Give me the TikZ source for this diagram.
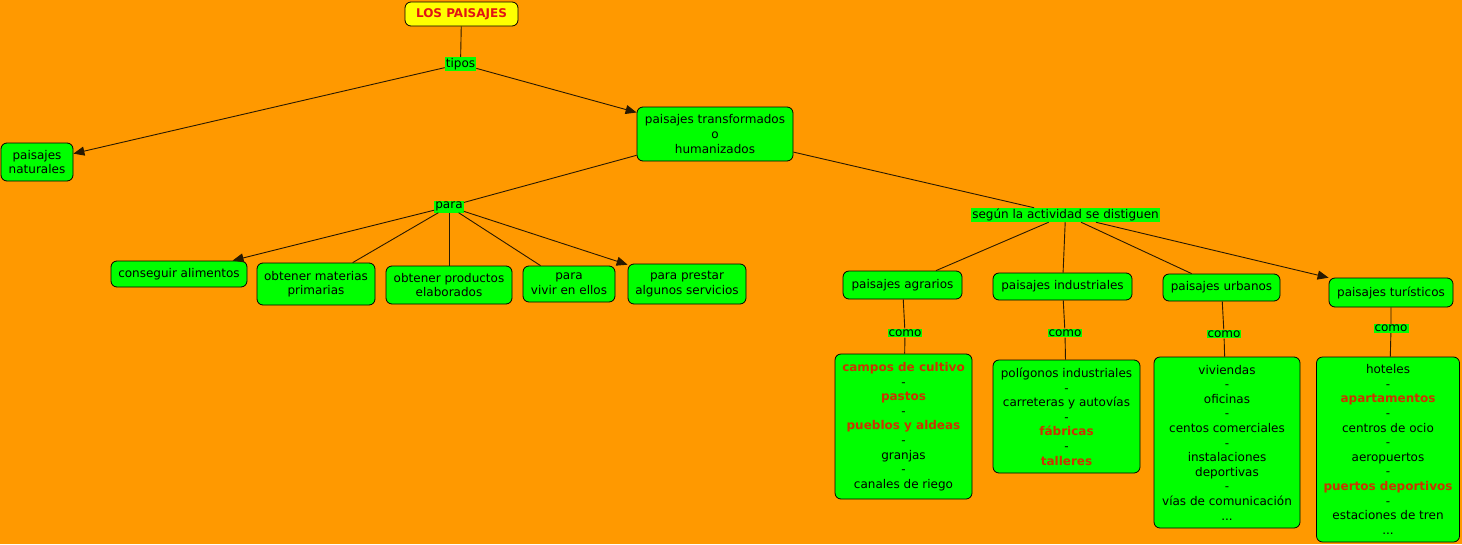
\documentclass[tikz,border=0pt]{standalone}
\usepackage{fontspec}
\setmainfont{DejaVu Sans}
\usetikzlibrary{arrows.meta}
\definecolor{fondo}{RGB}{255,153,0}
\definecolor{verde}{RGB}{0,255,0}
\definecolor{amarillo}{RGB}{255,255,0}
\definecolor{rojo}{RGB}{225,20,20}
\definecolor{rojizo}{RGB}{204,51,0}
\definecolor{linea}{RGB}{40,25,0}
\newcommand{\rj}[1]{\textcolor{rojizo}{\textbf{#1}}}

\begin{document}
\begin{tikzpicture}[x=1pt,y=-1pt,font=\fontsize{12}{14.6}\selectfont,
  caja/.style={draw=black,line width=0.8pt,fill=verde,rounded corners=6pt,align=center,inner sep=2pt},
  titulo/.style={caja,fill=amarillo,font=\fontsize{12}{14.6}\selectfont\bfseries,text=rojo},
  etiqueta/.style={fill=verde,inner sep=1pt},
  enlace/.style={draw=linea,line width=0.9pt},
  flecha/.style={enlace,-{Triangle[length=11pt,width=9pt]}}]
        \useasboundingbox (0,0) rectangle (1462,544);
        \fill[fondo] (0,0) rectangle (1462,544);

        \node[titulo,minimum width=113,minimum height=24] (paisajes) at (461.5,14) {LOS PAISAJES};
        \node[etiqueta,minimum width=31,minimum height=14] (tipos) at (460.5,64) {tipos};
        \node[caja,minimum width=72,minimum height=38] (naturales) at (37,162) {paisajes\\naturales};
        \node[caja,minimum width=156,minimum height=54] (transformados) at (715,134) {paisajes transformados\\o\\humanizados};
        \node[etiqueta,minimum width=28,minimum height=12] (para) at (449,206.5) {para};
        \node[etiqueta,minimum width=187,minimum height=14] (segun) at (1065.5,215) {según la actividad se distiguen};

        \node[caja,minimum width=136,minimum height=26] (alimentos) at (179,274) {conseguir alimentos};
        \node[caja,minimum width=118,minimum height=42] (materias) at (316,284) {obtener materias\\primarias};
        \node[caja,minimum width=126,minimum height=38] (productos) at (449,285) {obtener productos\\elaborados};
        \node[caja,minimum width=92,minimum height=36] (vivir) at (569,284) {para\\vivir en ellos};
        \node[caja,minimum width=118,minimum height=40] (servicios) at (687,284) {para prestar\\algunos servicios};

        \node[caja,minimum width=119,minimum height=28] (agrarios) at (902.5,285) {paisajes agrarios};
        \node[caja,minimum width=139,minimum height=27] (industriales) at (1062.5,286.5) {paisajes industriales};
        \node[caja,minimum width=117,minimum height=27] (urbanos) at (1221.5,287.5) {paisajes urbanos};
        \node[caja,minimum width=124,minimum height=29] (turisticos) at (1391,292.5) {paisajes turísticos};

        \node[etiqueta] (comoA) at (905,333) {como};
        \node[etiqueta] (comoI) at (1065,333) {como};
        \node[etiqueta] (comoU) at (1224,334) {como};
        \node[etiqueta] (comoT) at (1391,328.5) {como};

        \node[caja,minimum width=137,minimum height=145] (listaA) at (903.5,426.5)
          {\rj{campos de cultivo}\\-\\\rj{pastos}\\-\\\rj{pueblos y aldeas}\\-\\granjas\\-\\canales de riego};
        \node[caja,minimum width=147,minimum height=113] (listaI) at (1066.5,416.5)
          {polígonos industriales\\-\\carreteras y autovías\\-\\\rj{fábricas}\\-\\\rj{talleres}};
        \node[caja,minimum width=146,minimum height=171] (listaU) at (1227,442.5)
          {viviendas\\-\\oficinas\\-\\centos comerciales\\-\\instalaciones\\deportivas\\-\\vías de comunicación\\...};
        \node[caja,minimum width=143,minimum height=185] (listaT) at (1388,449.5)
          {hoteles\\-\\\rj{apartamentos}\\-\\centros de ocio\\-\\aeropuertos\\-\\\rj{puertos deportivos}\\-\\estaciones de tren\\...};

        \draw[enlace] (paisajes) -- (tipos);
        \draw[flecha] (tipos) -- (naturales);
        \draw[flecha] (tipos) -- (transformados);
        \draw[enlace] (transformados) -- (para);
        \draw[enlace] (transformados) -- (segun);
        \draw[flecha] (para) -- (alimentos);
        \draw[enlace] (para) -- (materias);
        \draw[enlace] (para) -- (productos);
        \draw[enlace] (para) -- (vivir);
        \draw[flecha] (para) -- (servicios);
        \draw[enlace] (segun) -- (agrarios);
        \draw[enlace] (segun) -- (industriales);
        \draw[enlace] (segun) -- (urbanos);
        \draw[flecha] (segun) -- (turisticos);
        \draw[enlace] (agrarios) -- (comoA) -- (listaA);
        \draw[enlace] (industriales) -- (comoI) -- (listaI);
        \draw[enlace] (urbanos) -- (comoU) -- (listaU);
        \draw[enlace] (turisticos) -- (comoT) -- (listaT);
\end{tikzpicture}
\end{document}
